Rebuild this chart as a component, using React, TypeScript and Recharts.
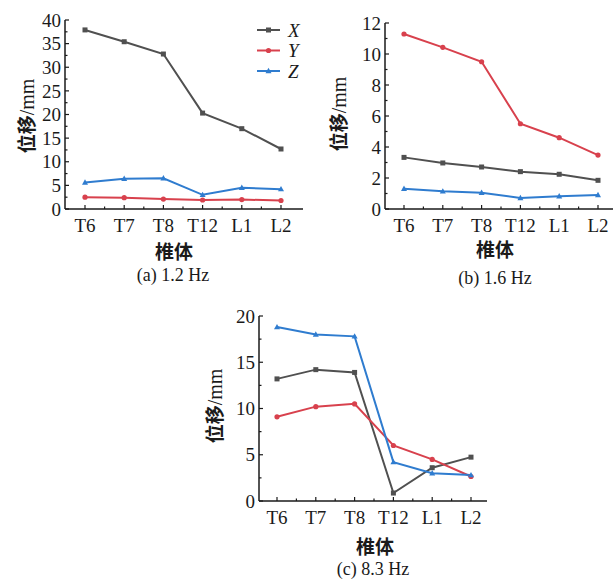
import React from 'react';
import { LineChart, Line, XAxis, YAxis } from 'recharts';

const vertebrae = ['T6', 'T7', 'T8', 'T12', 'L1', 'L2'];

const a_X = [37.9, 35.4, 32.8, 20.3, 17.0, 12.7];
const a_Y = [2.5, 2.4, 2.1, 1.9, 2.0, 1.8];
const a_Z = [5.6, 6.4, 6.5, 3.0, 4.5, 4.2];

const b_X = [3.33, 2.97, 2.71, 2.41, 2.24, 1.85];
const b_Y = [11.29, 10.43, 9.5, 5.5, 4.6, 3.48];
const b_Z = [1.31, 1.14, 1.05, 0.71, 0.82, 0.9];

const c_X = [13.2, 14.2, 13.9, 0.86, 3.6, 4.74];
const c_Y = [9.1, 10.2, 10.5, 6.0, 4.5, 2.65];
const c_Z = [18.8, 18.0, 17.8, 4.2, 3.0, 2.8];

const ticksA = [0, 5, 10, 15, 20, 25, 30, 35, 40];
const minorA = [2.5, 7.5, 12.5, 17.5, 22.5, 27.5, 32.5, 37.5];
const ticksB = [0, 2, 4, 6, 8, 10, 12];
const minorB = [1, 3, 5, 7, 9, 11];
const ticksC = [0, 5, 10, 15, 20];
const minorC = [2.5, 7.5, 12.5, 17.5];

const seriesNames = ['X', 'Y', 'Z'];
const captions = ['(a) 1.2 Hz', '(b) 1.6 Hz', '(c) 8.3 Hz'];

const COLORS: Record<string, string> = { X: '#505050', Y: '#d8414d', Z: '#2f7ccf' };
const SERIF = '"Liberation Serif", "Times New Roman", serif';
const CJK = '"Noto Sans CJK SC", sans-serif';
const INK = '#1a1a1a';

const build = (xs: number[], ys: number[], zs: number[]) =>
  vertebrae.map((v, i) => ({ name: v, X: xs[i], Y: ys[i], Z: zs[i] }));

const Marker = ({ cx, cy, kind, color }: any) => {
  if (cx == null || cy == null) return null;
  if (kind === 'X') return <rect x={cx - 2.5} y={cy - 2.5} width={5} height={5} fill={color} />;
  if (kind === 'Y') return <circle cx={cx} cy={cy} r={2.6} fill={color} />;
  return <polygon points={`${cx},${cy - 3.2} ${cx - 3},${cy + 2.2} ${cx + 3},${cy + 2.2}`} fill={color} />;
};

type PanelProps = {
  left: number; top: number; width: number; height: number;
  margin: any; yWidth: number; padL: number; padR: number;
  domain: [number, number]; ticks: number[]; minor: number[]; data: any[];
  yLabel: [number, number]; xLabel: [number, number]; caption: [number, number]; captionText: string;
};

const Panel = (p: PanelProps) => {
  const axisX = p.margin.left + p.yWidth;
  const axisY = p.height - p.margin.bottom - 30;
  const plotW = p.width - p.margin.right - axisX;
  const step = (plotW - p.padL - p.padR) / (vertebrae.length - 1);
  const allTicks = [...p.ticks, ...p.minor].sort((a, b) => a - b);

  const YTick = (tp: any) => {
    const v = tp.payload.value;
    const major = p.ticks.includes(v);
    const y = tp.y;
    return (
      <g>
        <line x1={axisX} x2={axisX + (major ? 4 : 2.5)} y1={y} y2={y} stroke={INK} strokeWidth={1.2} />
        {major && (
          <text x={tp.x} y={y} dy="0.355em" textAnchor="end" fontFamily={SERIF} fontSize={19} fill={INK}>
            {v}
          </text>
        )}
      </g>
    );
  };

  const XTick = (tp: any) => {
    const x = tp.x;
    const idx = tp.index;
    return (
      <g>
        <line x1={x} x2={x} y1={axisY} y2={axisY - 4} stroke={INK} strokeWidth={1.2} />
        {idx < vertebrae.length - 1 && (
          <line x1={x + step / 2} x2={x + step / 2} y1={axisY} y2={axisY - 2.5} stroke={INK} strokeWidth={1.2} />
        )}
        <text x={x} y={tp.y} dy="0.71em" textAnchor="middle" fontFamily={SERIF} fontSize={19} fill={INK}>
          {tp.payload.value}
        </text>
      </g>
    );
  };

  return (
    <>
      <div style={{ position: 'absolute', left: p.left, top: p.top }}>
        <LineChart width={p.width} height={p.height} data={p.data} margin={p.margin}>
          <XAxis
            dataKey="name"
            padding={{ left: p.padL, right: p.padR }}
            tick={<XTick />}
            tickLine={false}
            tickSize={0}
            tickMargin={10}
            height={30}
            stroke={INK}
            strokeWidth={1.5}
            interval={0}
          />
          <YAxis
            domain={p.domain}
            ticks={allTicks}
            tick={<YTick />}
            tickLine={false}
            tickSize={0}
            tickMargin={4}
            width={p.yWidth}
            stroke={INK}
            strokeWidth={1.5}
            interval={0}
          />
          {seriesNames.map((s) => (
            <Line
              key={s}
              type="linear"
              dataKey={s}
              stroke={COLORS[s]}
              strokeWidth={2}
              isAnimationActive={false}
              dot={(dp: any) => <Marker key={`${s}-${dp.index}`} cx={dp.cx} cy={dp.cy} kind={s} color={COLORS[s]} />}
              activeDot={false}
            />
          ))}
        </LineChart>
      </div>
      <div
        style={{
          position: 'absolute', left: p.yLabel[0], top: p.yLabel[1],
          transform: 'translate(-50%, -50%) rotate(-90deg)', whiteSpace: 'nowrap', color: INK,
        }}
      >
        <span style={{ fontFamily: CJK, fontWeight: 700, fontSize: 19 }}>位移</span>
        <span style={{ fontFamily: SERIF, fontSize: 20 }}>/mm</span>
      </div>
      <div
        style={{
          position: 'absolute', left: p.xLabel[0], top: p.xLabel[1],
          transform: 'translate(-50%, -50%)', whiteSpace: 'nowrap',
          fontFamily: CJK, fontWeight: 700, fontSize: 19, color: INK, lineHeight: 1,
        }}
      >
        椎体
      </div>
      <div
        style={{
          position: 'absolute', left: p.caption[0], top: p.caption[1],
          transform: 'translate(-50%, -50%)', whiteSpace: 'nowrap',
          fontFamily: SERIF, fontSize: 18, color: INK, lineHeight: 1,
        }}
      >
        {p.captionText}
      </div>
    </>
  );
};

const LegendBox = () => (
  <svg style={{ position: 'absolute', left: 250, top: 20 }} width={62} height={62}>
    {seriesNames.map((s, i) => {
      const y = 10 + i * 20.5;
      return (
        <g key={s}>
          <line x1={7} x2={30} y1={y} y2={y} stroke={COLORS[s]} strokeWidth={2} />
          <Marker cx={18.5} cy={y} kind={s} color={COLORS[s]} />
          <text x={38} y={y + 6.5} fontFamily={SERIF} fontStyle="italic" fontSize={19} fill={INK}>{s}</text>
        </g>
      );
    })}
  </svg>
);

export default function App() {
  return (
    <div style={{ position: 'absolute', left: 0, top: 0, width: 614, height: 581, background: '#fff', overflow: 'hidden' }}>
      <Panel
        left={0} top={0} width={310} height={290}
        margin={{ top: 20, right: 7, bottom: 51, left: 0 }} yWidth={65} padL={20} padR={22}
        domain={[0, 40]} ticks={ticksA} minor={minorA} data={build(a_X, a_Y, a_Z)}
        yLabel={[25, 116]} xLabel={[174, 250]} caption={[173, 275]} captionText={captions[0]}
      />
      <LegendBox />
      <Panel
        left={300} top={0} width={314} height={290}
        margin={{ top: 23, right: 1, bottom: 51, left: 0 }} yWidth={85} padL={19} padR={15}
        domain={[0, 12]} ticks={ticksB} minor={minorB} data={build(b_X, b_Y, b_Z)}
        yLabel={[337, 114]} xLabel={[495, 248]} caption={[495, 278]} captionText={captions[1]}
      />
      <Panel
        left={200} top={300} width={320} height={281}
        margin={{ top: 16, right: 33, bottom: 50, left: 0 }} yWidth={59} padL={18} padR={16}
        domain={[0, 20]} ticks={ticksC} minor={minorC} data={build(c_X, c_Y, c_Z)}
        yLabel={[213, 406]} xLabel={[375, 545]} caption={[373, 569]} captionText={captions[2]}
      />
    </div>
  );
}
